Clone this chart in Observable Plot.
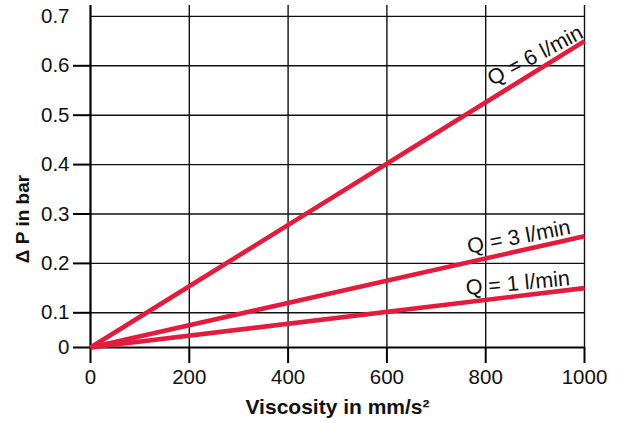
<!DOCTYPE html>
<html><head><meta charset="utf-8">
<script src="https://cdn.jsdelivr.net/npm/d3@7"></script>
<script src="https://cdn.jsdelivr.net/npm/@observablehq/plot@0.6"></script>
<style>
html,body{margin:0;padding:0;background:#fff;}
#chart svg{display:block;}
</style></head><body><div id="chart"></div>
<script>
// ---- data ----
const viscosity = [0, 1000];
const seriesLabels = ["Q = 6 l/min", "Q = 3 l/min", "Q = 1 l/min"];
const deltaPAt0 = [0, 0, 0];
const deltaPAt1000 = [0.65, 0.255, 0.15];
const xTicks = [0, 200, 400, 600, 800, 1000];
const xTickLabels = ["0", "200", "400", "600", "800", "1000"];
const yTicks = [0, 0.1, 0.2, 0.3, 0.4, 0.5, 0.6, 0.7];
const yTickLabels = ["0", "0.1", "0.2", "0.3", "0.4", "0.5", "0.6", "0.7"];
const xTitle = "Viscosity in mm/s²";
const yTitle = "Δ P in bar";

// ---- tables ----
const rows = seriesLabels.flatMap((s, i) => [
  {series: s, v: viscosity[0], dp: deltaPAt0[i]},
  {series: s, v: viscosity[1], dp: deltaPAt1000[i]}
]);
const ends = seriesLabels.map((s, i) => ({series: s, v: viscosity[1], dp: deltaPAt1000[i]}));

// ---- styles ----
const font = "'Liberation Sans', Arial, Helvetica, sans-serif";
const red = "#e31b3c";
const yTop = 0.722; // grid extends a little above the 0.7 line
const labelStyle = [
  {rotate: -28, dx: 0, dy: -4},
  {rotate: -11, dx: -13, dy: -2.5},
  {rotate: -5.5, dx: -14, dy: -3}
];

const labelMarks = ends.map((d, i) => Plot.text([d], {
  x: "v", y: "dp", text: "series",
  rotate: labelStyle[i].rotate, dx: labelStyle[i].dx, dy: labelStyle[i].dy,
  textAnchor: "end", lineAnchor: "bottom", fontSize: 21.5, fill: "#111"
}));

const chart = Plot.plot({
  width: 623,
  height: 423,
  marginLeft: 90,
  marginRight: 39,
  marginTop: 16,
  marginBottom: 76,
  style: {fontFamily: font, fontSize: "20px", color: "#111", background: "#fff"},
  x: {type: "linear", domain: [0, 1000], range: [90, 584], axis: null},
  y: {type: "linear", domain: [0, 0.1, 0.7], range: [347, 312.3, 15.9], axis: null},
  marks: [
    Plot.ruleX(xTicks.slice(1), {x: d => d, y1: 0, y2: yTop, stroke: "#111", strokeWidth: 1.4}),
    Plot.ruleY(yTicks.slice(1), {y: d => d, x1: xTicks[0], x2: xTicks[xTicks.length - 1], stroke: "#111", strokeWidth: 1.4}),
    Plot.ruleY([0], {x1: xTicks[0], x2: xTicks[xTicks.length - 1], stroke: "#000", strokeWidth: 2.2}),
    Plot.ruleX([0], {y1: 0, y2: yTop, stroke: "#000", strokeWidth: 2.2}),
    Plot.axisX(xTicks, {tickSize: 16, tickPadding: 6, fontSize: 20.5, strokeWidth: 2, stroke: "#000", label: null,
      tickFormat: d => xTickLabels[xTicks.indexOf(d)]}),
    Plot.axisY(yTicks.slice(0, -1), {tickSize: 17, tickFormat: () => "", strokeWidth: 2, stroke: "#000", label: null}),
    Plot.axisY(yTicks, {tickSize: 0, tickPadding: 21, fontSize: 20.5, label: null,
      tickFormat: d => yTickLabels[yTicks.indexOf(d)]}),
    Plot.line(rows, {x: "v", y: "dp", z: "series", stroke: red, strokeWidth: 4.6, strokeLinecap: "butt"}),
    ...labelMarks,
    Plot.text([xTitle], {frameAnchor: "bottom", dy: 66.5, text: d => d, textAnchor: "middle", lineAnchor: "bottom",
      fontSize: 21, fontWeight: "bold", fill: "#111"}),
    Plot.text([yTitle], {frameAnchor: "left", dx: -61.5, dy: 37, text: d => d, rotate: -90, textAnchor: "middle", lineAnchor: "bottom",
      fontSize: 19, fontWeight: "bold", fill: "#111"})
  ]
});
document.getElementById("chart").appendChild(chart);
</script>
</body></html>
